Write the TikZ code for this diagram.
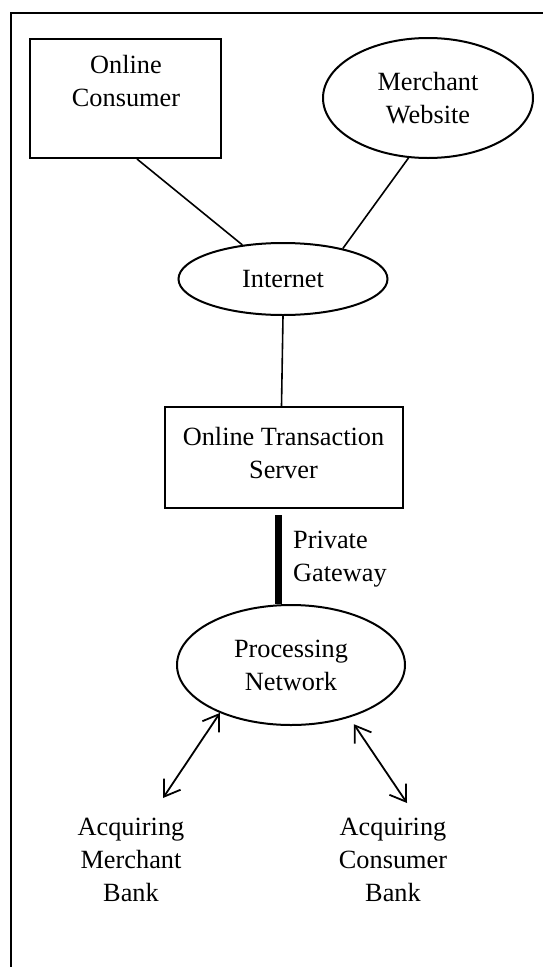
\documentclass[tikz,border=0pt]{standalone}
\usepackage{fontspec}
\setmainfont{Liberation Serif}
\usetikzlibrary{shapes.geometric,arrows.meta}

\begin{document}
\begin{tikzpicture}[x=1pt,y=-1pt,
  font=\fontsize{26.3}{33}\selectfont,
  box/.style={draw,line width=2pt,rectangle,inner sep=0pt},
  oval/.style={draw,line width=2pt,ellipse,inner sep=0pt,align=center},
  txt/.style={inner sep=0pt,align=center,anchor=north},
  link/.style={line width=1.6pt},
  biarrow/.style={line width=1.8pt,<->,>={Straight Barb[length=15pt,width=20pt]}}]
\clip (0,0) rectangle (543,967);
% frame
\draw[line width=2.4pt] (11,990) -- (11,13) -- (560,13);

% top row
\node[box,minimum width=191pt,minimum height=119pt] (cons) at (125.5,98.5) {};
\node[txt] (constext) at (126,55) {Online\\Consumer};
\node[oval,minimum width=210pt,minimum height=120pt] (merch) at (428,98) {Merchant\\Website};

% middle
\node[oval,minimum width=209pt,minimum height=72pt] (inet) at (283,279) {Internet};
\node[box,minimum width=238pt,minimum height=101pt] (serv) at (283.5,457.5) {};
\node[txt] (servtext) at (283.5,427) {Online Transaction\\Server};
\node[oval,minimum width=228pt,minimum height=120pt] (proc) at (291,665) {Processing\\Network};

\draw[link] ([xshift=11.5pt]cons.south) -- (inet.140);
\draw[link] (merch.-108) -- (inet.27);
\draw[link] (inet.south) -- ([xshift=-2pt]serv.north);

% gateway
\coordinate (gwtop) at (278.5,515);
\draw[line width=7pt] (gwtop) -- (gwtop |- proc.north);
\node[anchor=north west,inner sep=0pt,align=left] (gwtext) at (293,531) {Private\\Gateway};

% banks
\coordinate (mbank) at (163,798);
\coordinate (cbank) at (407,803);
\draw[biarrow] (mbank) -- (proc.-146);
\draw[biarrow,shorten >=8pt] (cbank) -- (proc.-42);
\node[txt] (mbanktext) at (131,818) {Acquiring\\Merchant\\Bank};
\node[txt] (cbanktext) at (393,818) {Acquiring\\Consumer\\Bank};
\end{tikzpicture}
\end{document}
